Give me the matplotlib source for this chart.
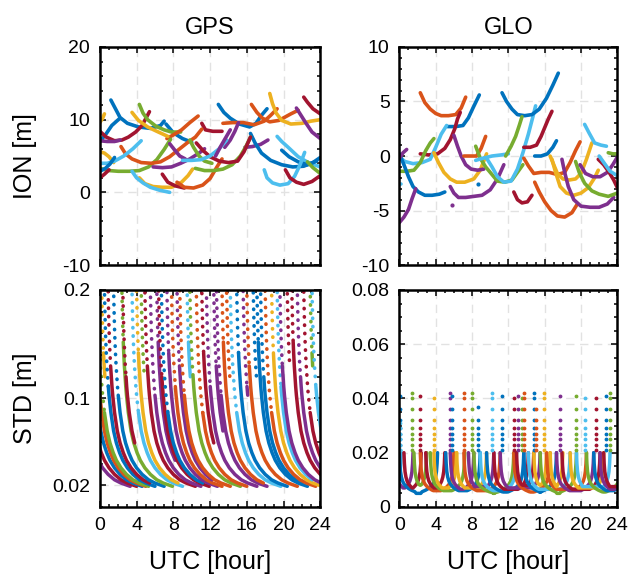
import matplotlib
matplotlib.use('Agg')
import matplotlib.pyplot as plt
from matplotlib.ticker import MultipleLocator

plt.rcParams['font.family'] = ['Liberation Sans', 'DejaVu Sans']

# matlab default colour order
COLORS = ['#0072BD', '#D95319', '#EDB120', '#7E2F8E', '#77AC30', '#4DBEEE', '#A2142F']

X_TICKS = [0, 4, 8, 12, 16, 20, 24]

# ---------------- GPS ionosphere arcs: (hour, metres) ----------------
GPS_ION_ARCS = [
    [(0.0, 9.6), (0.3, 10.2), (0.5, 10.8)],
    [(1.2, 12.7), (1.7, 11.5), (2.2, 10.3), (3.0, 9.5), (4.2, 9.0), (5.5, 8.8), (6.6, 9.2), (7.0, 9.8)],
    [(7.2, 9.4), (8.0, 8.2), (9.0, 7.4), (10.0, 6.9)],
    [(0.0, 7.0), (0.6, 7.9), (1.3, 9.2), (2.1, 10.1)],
    [(0.0, 8.4), (0.7, 7.6), (1.6, 7.1), (2.4, 7.2), (3.1, 7.6), (3.9, 8.3), (4.6, 9.2), (5.4, 11.1)],
    [(0.0, 7.1), (0.8, 7.0), (1.6, 7.0), (2.2, 7.2)],
    [(4.3, 12.1), (4.7, 10.9), (5.2, 10.0), (6.1, 9.1), (7.0, 8.6), (7.8, 8.3), (8.8, 8.3)],
    [(7.3, 7.4), (8.0, 7.9), (8.9, 8.6), (9.8, 9.6), (10.7, 10.5)],
    [(3.5, 11.0), (4.2, 9.9), (5.2, 9.0), (6.2, 8.4), (7.4, 7.7)],
    [(11.1, 9.5), (11.5, 8.6), (12.3, 8.4), (13.3, 8.4)],
    [(12.9, 12.1), (13.5, 11.0), (14.2, 10.2), (15.2, 9.4), (16.3, 9.0), (17.0, 9.5), (17.6, 10.6), (18.2, 11.5)],
    [(13.4, 9.5), (14.5, 9.6), (15.6, 9.6), (16.8, 9.3), (17.9, 9.8), (18.6, 10.6), (19.3, 11.5)],
    [(16.5, 12.1), (17.1, 11.0), (17.7, 10.2), (18.5, 9.7), (19.5, 9.9), (20.8, 10.8), (21.6, 11.3)],
    [(18.5, 13.6), (18.8, 12.2), (19.2, 10.9), (19.8, 9.9), (20.8, 9.4), (22.0, 9.5), (23.0, 9.8), (24.0, 10.0)],
    [(22.2, 13.1), (22.6, 12.4), (23.2, 11.5), (24.0, 10.8)],
    [(21.4, 11.6), (21.9, 10.6), (22.4, 9.6), (23.1, 8.3), (24.0, 7.4)],
    [(13.6, 6.2), (14.2, 7.2), (14.7, 8.4), (15.1, 9.6)],
    [(15.8, 6.2), (16.6, 6.3), (17.5, 6.6), (18.3, 7.2)],
    [(19.3, 7.7), (19.8, 7.0), (20.5, 6.2), (21.6, 4.9), (22.7, 4.1), (24.0, 3.5)],
    [(16.4, 8.1), (16.9, 6.8), (17.6, 5.4), (18.6, 4.4), (19.8, 3.8), (21.0, 3.5), (22.2, 3.6), (23.2, 4.1), (24.0, 4.8)],
    [(19.8, 5.8), (20.6, 4.9), (21.6, 4.2), (22.6, 3.8), (23.6, 4.3)],
    [(17.9, 3.1), (18.2, 2.0), (18.8, 1.3), (19.6, 1.0), (20.5, 1.2), (21.2, 2.2), (21.8, 3.8), (22.3, 5.5)],
    [(20.2, 3.1), (20.7, 2.0), (21.4, 1.4), (22.2, 1.1), (23.1, 1.5), (24.0, 2.3)],
    [(22.6, 4.2), (23.2, 3.4), (24.0, 2.6)],
    [(0.0, 3.3), (1.0, 3.0), (2.0, 2.9), (3.2, 2.9), (4.3, 3.0), (5.3, 3.5), (6.2, 4.5), (7.0, 5.9), (7.7, 7.3)],
    [(2.3, 6.3), (2.8, 5.3), (3.5, 4.6), (4.5, 4.1), (5.6, 4.0), (6.6, 4.2), (7.6, 4.9), (8.6, 5.9), (9.6, 6.9), (10.4, 7.6), (11.1, 8.7)],
    [(0.0, 5.6), (0.5, 5.4), (1.0, 4.9), (1.5, 4.1)],
    [(4.3, 2.0), (4.9, 1.2), (5.8, 0.8), (6.8, 0.7), (7.8, 0.7), (8.9, 1.4), (9.6, 2.3), (10.1, 3.2)],
    [(3.5, 2.9), (4.0, 2.0), (4.7, 1.3), (5.5, 0.7), (6.5, 0.3), (7.6, 0.0)],
    [(0.0, 4.0), (0.8, 4.0), (1.6, 4.3), (2.6, 5.0), (3.6, 6.0), (4.5, 7.1)],
    [(0.0, 2.9), (0.6, 3.3), (1.1, 3.9), (1.6, 4.8)],
    [(0.0, 2.0), (0.5, 2.5), (1.0, 3.1)],
    [(6.8, 2.5), (7.4, 1.4), (8.2, 0.9), (9.2, 0.6)],
    [(8.4, 1.4), (9.2, 0.7), (10.2, 0.6), (11.2, 1.0), (12.0, 1.9), (12.7, 3.4), (13.3, 4.6)],
    [(5.8, 3.5), (6.8, 3.4), (7.8, 3.5), (8.8, 4.0), (9.8, 4.6), (10.8, 5.4), (11.4, 6.0)],
    [(7.6, 6.7), (8.1, 5.9), (8.7, 5.0), (9.3, 4.6)],
    [(10.4, 3.3), (11.4, 3.0), (12.4, 3.0), (13.4, 3.2), (14.4, 3.8), (15.3, 5.0), (15.9, 6.3), (16.4, 7.6)],
    [(9.8, 7.2), (10.2, 6.2), (10.8, 5.0), (11.4, 4.3), (12.2, 4.0)],
    [(10.5, 6.8), (11.2, 5.8), (12.0, 4.9), (13.0, 4.3), (14.0, 4.1), (15.0, 4.3), (15.7, 5.6), (16.4, 7.6)],
    [(9.0, 4.4), (10.0, 4.4), (11.0, 4.5), (12.0, 5.0), (13.0, 6.0), (13.8, 7.2)],
    [(12.6, 5.0), (13.1, 6.2), (13.6, 7.3), (14.2, 8.6)],
]
GPS_ION_COLORS = [2, 0, 0, 0, 6, 3, 4, 1, 2, 6, 0, 1, 1, 2, 6, 3, 3, 3, 5, 0, 0, 5, 6, 4,
                  4, 1, 2, 2, 5, 5, 0, 6, 6, 1, 3, 3, 4, 4, 6, 5, 3]

# ---------------- GLONASS ionosphere arcs ----------------
GLO_ION_ARCS = [
    [(2.3, 5.8), (2.8, 4.9), (3.4, 4.3), (4.0, 3.9), (4.6, 3.7), (5.4, 3.7), (6.2, 3.8), (6.8, 4.4), (7.3, 5.4)],
    [(5.3, 2.7), (6.2, 2.7), (7.0, 2.8), (7.6, 3.5), (8.1, 4.4), (8.8, 5.6)],
    [(2.3, 0.2), (3.2, 0.1), (4.2, 0.2), (5.0, 0.7), (5.6, 1.5), (6.1, 2.5), (6.4, 3.4), (6.7, 4.0)],
    [(0.0, -0.1), (0.6, -0.5), (1.5, -0.7), (2.5, -0.6), (3.4, -0.3), (4.0, 0.8), (4.6, 2.0), (5.2, 2.8)],
    [(0.0, -1.4), (0.8, -1.4), (1.6, -1.3), (2.3, -0.6), (2.9, 0.5), (3.4, 1.2), (3.8, 1.6)],
    [(0.0, 0.2), (0.5, -0.8), (1.0, -1.9), (1.5, -2.8), (2.1, -3.3), (2.8, -3.6), (3.6, -3.6), (4.4, -3.5), (5.0, -3.3)],
    [(0.0, -6.1), (0.5, -5.6), (1.0, -4.9), (1.4, -3.9), (1.8, -3.0)],
    [(0.0, -0.2), (0.4, 0.3), (0.8, 0.6)],
    [(3.8, 0.3), (4.3, -0.6), (4.9, -1.5), (5.6, -2.1), (6.3, -2.4), (7.2, -2.4), (8.2, -2.1), (8.9, -1.3), (9.6, 0.2)],
    [(6.0, 1.9), (6.4, 0.9), (6.8, 0.0), (7.3, -0.8), (7.9, -1.2), (8.6, -1.3), (9.3, -1.2)],
    [(5.6, -2.8), (6.0, -3.4), (6.5, -3.8), (7.3, -3.8), (8.2, -3.7), (9.1, -3.6), (10.0, -3.1), (10.8, -2.1), (11.5, -0.8)],
    [(7.1, 0.0), (7.8, 0.0), (8.5, 0.0), (9.0, 0.7), (9.5, 1.8)],
    [(8.4, 0.9), (8.9, -0.2), (9.5, -1.0), (10.1, -1.6), (10.8, -2.3), (11.6, -2.4), (12.4, -2.2), (13.0, -1.5), (13.6, -0.8)],
    [(8.4, -0.4), (9.2, -0.2), (10.2, 0.0), (11.2, 0.1), (12.0, 0.2)],
    [(9.6, -0.2), (10.2, -1.0), (10.8, -1.9), (11.5, -2.4), (12.3, -2.3), (13.0, -1.2), (13.6, 0.3), (14.2, 2.0), (14.7, 3.6), (15.0, 4.6)],
    [(11.3, 5.8), (11.8, 5.0), (12.4, 4.3), (13.0, 3.8), (13.8, 3.7), (14.6, 3.8), (15.4, 4.3), (16.2, 5.3), (16.9, 6.5), (17.5, 7.6)],
    [(11.7, 0.0), (12.3, 0.9), (12.8, 1.8), (13.2, 2.8), (13.5, 3.6)],
    [(12.6, -3.3), (13.0, -4.0), (13.5, -4.3), (14.1, -4.2), (14.6, -3.6)],
    [(13.7, 0.8), (14.4, 0.8), (15.1, 1.0), (15.6, 1.8), (16.0, 2.6), (16.4, 3.4), (16.8, 4.1)],
    [(14.9, 0.0), (15.6, 0.0), (16.3, 0.2), (16.9, 0.8), (17.3, 1.4)],
    [(13.7, -0.2), (14.2, -0.9), (14.8, -1.6), (15.6, -1.5), (16.5, -1.5), (17.4, -1.7), (18.2, -1.5), (18.8, -0.6), (19.4, 0.5), (19.9, 1.3)],
    [(14.9, -2.4), (15.4, -3.3), (16.0, -4.2), (16.7, -5.0), (17.4, -5.5), (18.2, -5.6), (19.0, -5.2), (19.6, -4.4)],
    [(16.6, 0.0), (17.0, -0.8), (17.4, -1.6), (18.0, -2.1), (18.7, -2.2), (19.4, -2.1), (20.0, -1.6), (20.6, -0.3), (21.2, 1.2)],
    [(16.8, -0.3), (17.2, -1.5), (17.7, -2.8), (18.4, -3.4), (19.2, -3.6), (20.0, -3.4), (20.8, -2.9), (21.5, -2.0), (21.9, -1.3)],
    [(17.9, -0.3), (18.2, -1.5), (18.6, -2.8), (19.2, -4.0), (20.0, -4.6), (21.0, -4.7), (22.0, -4.7), (22.9, -4.4), (23.6, -3.8)],
    [(19.4, -0.5), (19.8, -1.5), (20.4, -2.5), (21.2, -3.2), (22.0, -3.5), (23.0, -3.7), (24.0, -3.4)],
    [(19.9, -0.8), (20.5, -1.6), (21.3, -1.9), (22.1, -1.9), (22.9, -1.5), (23.5, -0.8), (24.0, -0.1)],
    [(20.4, 2.9), (20.9, 2.1), (21.5, 1.2), (22.2, 1.0), (22.8, 0.9)],
    [(21.9, -0.3), (22.5, -0.8), (23.1, -1.5), (23.6, -2.2), (24.0, -2.9)],
    [(22.0, 0.0), (22.6, -0.7), (23.2, -1.4), (24.0, -1.8)],
    [(23.0, 0.3), (23.5, 0.2), (24.0, 0.2)],
    [(0.0, -2.6), (0.2, -2.6)],
]
GLO_ION_COLORS = [1, 0, 6, 5, 4, 0, 3, 3, 2, 3, 3, 1, 4, 5, 5, 0, 4, 6, 6, 0, 1, 1, 2, 2,
                  3, 4, 3, 5, 6, 5, 4, 5]
GLO_ION_DOTS = [(8.7, -2.6, 0), (5.8, -4.5, 3)]

GPS_PROF_DT = [0.00, 0.03, 0.06, 0.10, 0.15, 0.20, 0.27, 0.35, 0.42, 0.50, 0.70, 1.00, 1.30,
               1.65, 2.00, 2.50, 3.10, 3.80, 4.50, 5.50]
GPS_PROF_STD = [0.200, 0.188, 0.177, 0.164, 0.152, 0.142, 0.130, 0.120, 0.111, 0.103, 0.087, 0.070,
                0.059, 0.050, 0.043, 0.036, 0.030, 0.025, 0.022, 0.019]
GPS_STD_START = [-2.2, -1.5, -0.9, -0.5, -0.2, 0.2, 0.5, 0.9, 1.5, 2.4, 2.5, 3.5, 4.0, 4.5, 4.9,
                 5.5, 6.2, 6.4, 6.7, 7.3, 7.8, 8.4, 8.7, 9.5, 9.8, 10.5, 11.1, 11.6, 12.4, 12.7,
                 13.3, 13.8, 14.2, 14.9, 15.6, 16.0, 16.7, 17.1, 17.5, 18.0, 18.7, 19.3, 19.6,
                 20.4, 20.9, 21.5, 22.2, 22.9, 23.1]
GPS_STD_LEN = [5.5, 5.5, 5.5, 5.5, 5.5, 0.35, 5.5, 4.5, 5.5, 5.5, 1.3, 5.5, 4.5, 0.4, 5.5,
               5.5, 2.0, 5.5, 4.5, 5.5, 5.5, 3.8, 5.5, 0.35, 5.5, 5.5, 1.3, 5.5, 1.0, 5.5,
               4.5, 0.35, 5.5, 5.5, 0.5, 5.5, 0.35, 5.5, 4.5, 5.5, 5.5, 3.8, 5.5,
               0.3, 5.5, 5.5, 5.5, 0.3, 5.5]
GPS_STD_COLORS = [3, 6, 0, 1, 4, 2, 0, 6, 0, 4, 6, 5, 2, 4, 6, 3, 3, 6, 0, 3, 1, 3, 1, 5, 4,
                  1, 6, 3, 3, 3, 1, 1, 5, 0, 3, 1, 0, 0, 0, 1, 2, 5, 3, 6, 6, 3, 6, 4, 5]
# level where the sparse dots of each arc merge into a line
DOT_LIMITS = [0.13, 0.105, 0.152, 0.12, 0.095, 0.142, 0.111]

# ---------------- GLO STD: wall of a U-shaped arc ----------------
GLO_WALL_DT = [0.00, 0.05, 0.12, 0.22, 0.35, 0.52, 0.75, 1.00, 1.30, 1.70, 2.10]
GLO_WALL_STD = [0.020, 0.016, 0.013, 0.011, 0.0095, 0.0084, 0.0075, 0.0068, 0.0062, 0.0056, 0.0052]
# start hour, end hour, floor level, colour
GLO_STD_ARCS = [
    (-1.0, 0.2, 0.006, 5), (-0.5, 1.5, 0.007, 3), (0.0, 4.2, 0.005, 0), (0.5, 2.4, 0.007, 6),
    (1.6, 3.0, 0.008, 4), (2.3, 6.0, 0.006, 1), (2.9, 5.0, 0.007, 6), (3.4, 7.2, 0.006, 4),
    (3.8, 6.3, 0.007, 2), (5.1, 8.9, 0.006, 0), (5.6, 8.2, 0.0065, 3), (6.3, 9.6, 0.007, 2),
    (7.1, 11.1, 0.006, 1), (7.6, 10.4, 0.0075, 3), (8.2, 12.6, 0.005, 4), (8.9, 12.9, 0.006, 5),
    (9.6, 13.7, 0.0055, 0), (10.4, 14.2, 0.0065, 6), (11.1, 15.5, 0.007, 3), (12.6, 16.6, 0.0055, 1),
    (12.9, 14.8, 0.008, 6), (13.7, 17.3, 0.0055, 0), (14.2, 18.8, 0.0065, 5), (14.8, 16.2, 0.008, 2),
    (15.5, 19.5, 0.005, 4), (16.2, 20.6, 0.0065, 1), (16.6, 18.0, 0.0075, 2), (17.3, 21.4, 0.006, 3),
    (17.9, 22.1, 0.0065, 6), (18.8, 22.5, 0.007, 2), (19.5, 23.2, 0.0075, 5), (20.6, 24.5, 0.0055, 4),
    (21.4, 25.0, 0.006, 0), (22.1, 24.8, 0.0065, 3), (22.5, 25.5, 0.0075, 6),
]
GLO_SPIKES = [
    (0.1, 0.041, 0), (0.05, 0.031, 5), (1.4, 0.042, 4), (2.3, 0.041, 6), (3.8, 0.040, 2),
    (5.6, 0.042, 3), (5.8, 0.041, 0), (7.1, 0.042, 1), (8.0, 0.042, 4), (8.7, 0.037, 0),
    (10.2, 0.042, 5), (11.3, 0.041, 0), (12.6, 0.040, 6), (13.1, 0.041, 3), (13.5, 0.040, 4),
    (13.7, 0.042, 1), (14.8, 0.042, 0), (15.0, 0.036, 1), (15.9, 0.042, 2), (17.7, 0.041, 3),
    (19.5, 0.041, 4), (20.4, 0.040, 5), (21.7, 0.040, 6), (22.8, 0.041, 0), (23.2, 0.042, 4),
]
SPIKE_LEVELS = [0.042, 0.040, 0.036, 0.032, 0.029, 0.027, 0.025, 0.023, 0.021]


def style_axes(ax, ylim, yticks, ylabels, yminor, xlabels=True):
    ax.set_xlim(0, 24)
    ax.set_xticks(X_TICKS)
    ax.xaxis.set_minor_locator(MultipleLocator(1))
    ax.set_ylim(*ylim)
    ax.set_yticks(yticks)
    ax.set_yticklabels(ylabels)
    ax.yaxis.set_minor_locator(MultipleLocator(yminor))
    if not xlabels:
        ax.set_xticklabels([])
    ax.tick_params(which='both', direction='in', top=True, right=True, width=1.1)
    ax.tick_params(which='major', length=4.5, labelsize=14, pad=7)
    ax.tick_params(which='minor', length=2.5)
    ax.grid(True, which='major', ls=(0, (6, 4)), color='#e2e2e2', lw=1.0)
    ax.set_axisbelow(True)
    for s in ax.spines.values():
        s.set_linewidth(1.8)


def draw_arcs(ax, arcs, colors):
    for pts, c in zip(arcs, colors):
        t = [p[0] for p in pts]
        v = [p[1] for p in pts]
        ax.plot(t, v, color=COLORS[c], lw=2.6, solid_capstyle='round', solid_joinstyle='round')


fig = plt.figure(figsize=(6.28, 5.8), dpi=100)
ax1 = fig.add_axes([0.159, 0.543, 0.351, 0.376])
ax2 = fig.add_axes([0.636, 0.543, 0.347, 0.376])
ax3 = fig.add_axes([0.159, 0.126, 0.351, 0.374])
ax4 = fig.add_axes([0.636, 0.126, 0.347, 0.374])

# GPS ION
draw_arcs(ax1, GPS_ION_ARCS, GPS_ION_COLORS)
style_axes(ax1, (-10, 20), [-10, 0, 10, 20], ['-10', '0', '10', '20'], 2, xlabels=False)
ax1.set_title('GPS', fontsize=17, pad=9)
ax1.set_ylabel('ION [m]', fontsize=18)

# GLO ION
draw_arcs(ax2, GLO_ION_ARCS, GLO_ION_COLORS)
for t, v, c in GLO_ION_DOTS:
    ax2.plot(t, v, '.', color=COLORS[c], ms=4)
style_axes(ax2, (-10, 10), [-10, -5, 0, 5, 10], ['-10', '-5', '0', '5', '10'], 1, xlabels=False)
ax2.set_title('GLO', fontsize=17, pad=9)

# GPS STD: sparse dotted start (fast convergence), solid afterwards
for i, (t0, dur, c) in enumerate(zip(GPS_STD_START, GPS_STD_LEN, GPS_STD_COLORS)):
    t = [t0 + d for d in GPS_PROF_DT if d <= dur]
    s = [v for d, v in zip(GPS_PROF_DT, GPS_PROF_STD) if d <= dur]
    n_dot = len([v for v in s if v > DOT_LIMITS[i % len(DOT_LIMITS)]])
    ax3.plot(t[:n_dot + 1], s[:n_dot + 1], ls=((i * 0.9) % 2.2, (0.1, 2.2)), lw=2.6,
             dash_capstyle='round', color=COLORS[c])
    if len(s) > n_dot + 1:
        ax3.plot(t[n_dot:], s[n_dot:], lw=2.5, color=COLORS[c], solid_capstyle='round')
style_axes(ax3, (0, 0.2), [0.02, 0.1, 0.2], ['0.02', '0.1', '0.2'], 0.02)
ax3.set_ylabel('STD [m]', fontsize=18)
ax3.set_xlabel('UTC [hour]', fontsize=18)

# GLO STD
for t0, t1, floor, c in GLO_STD_ARCS:
    half = (t1 - t0) / 2
    wall = [(d, v) for d, v in zip(GLO_WALL_DT, GLO_WALL_STD) if d < half and v > floor]
    pts = [(t0 + d, v) for d, v in wall]
    if wall[-1][0] < half:
        pts += [(t0 + wall[-1][0] + 0.15, floor), (t1 - wall[-1][0] - 0.15, floor)]
    pts += [(t1 - d, v) for d, v in wall[::-1]]
    ax4.plot([p[0] for p in pts], [p[1] for p in pts], lw=2.5, color=COLORS[c],
             solid_capstyle='round', solid_joinstyle='round')
for t, top, c in GLO_SPIKES:
    lev = [top] + [v for v in SPIKE_LEVELS if v < top - 0.001]
    ax4.plot([t] * len(lev), lev, ls='none', marker='.', ms=3.5, color=COLORS[c])
style_axes(ax4, (0, 0.08), [0, 0.02, 0.04, 0.06, 0.08], ['0', '0.02', '0.04', '0.06', '0.08'], 0.005)
ax4.set_xlabel('UTC [hour]', fontsize=18)

for ax in (ax1, ax3):
    ax.yaxis.set_label_coords(-0.285, 0.5)
for ax in (ax3, ax4):
    ax.xaxis.set_label_coords(0.5, -0.2)

fig.savefig('out.png', dpi=100)
